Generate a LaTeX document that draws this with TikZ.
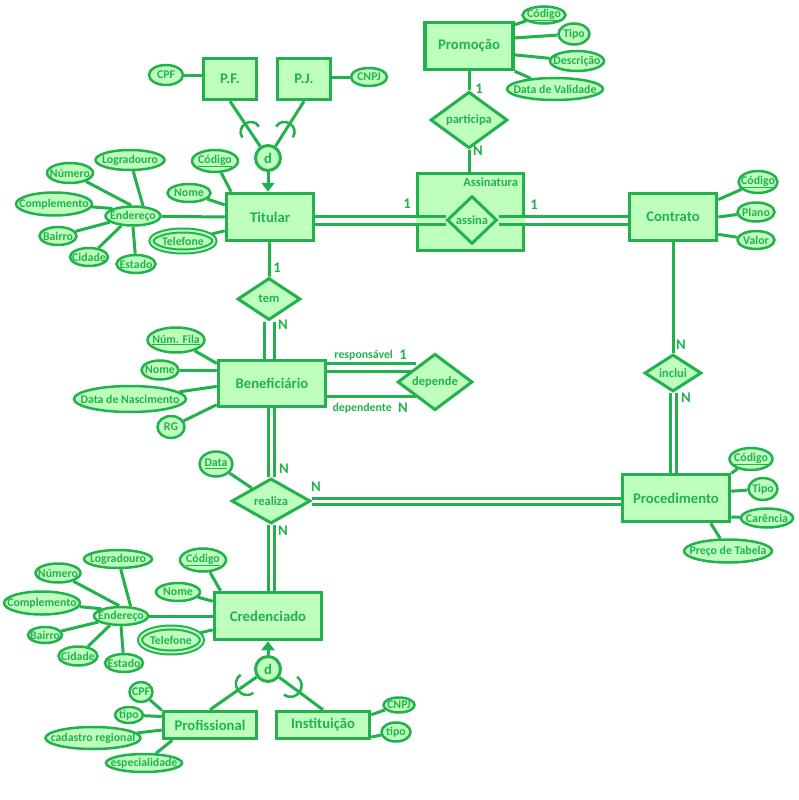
\documentclass[tikz,border=0pt]{standalone}
\usepackage{fontspec}
\setmainfont{Carlito}
\usetikzlibrary{positioning,shapes.geometric,arrows.meta}
\definecolor{ergreen}{RGB}{34,177,76}
\definecolor{erfill}{RGB}{190,255,190}
\pgfdeclarelayer{back}
\pgfsetlayers{back,main}
\tikzset{
  ent/.style 2 args={rectangle, draw=ergreen, fill=erfill, line width=3.5pt, minimum width=#1pt, minimum height=#2pt, inner sep=0pt, text=ergreen, font=\fontsize{14.7}{16}\selectfont\bfseries},
  attr/.style 2 args={ellipse, draw=ergreen, fill=erfill, line width=2.5pt, minimum width=#1pt, minimum height=#2pt, inner xsep=-12pt, inner ysep=-1pt, text=ergreen, font=\fontsize{11.8}{13}\selectfont\bfseries},
  multi/.style={line width=2pt, double=erfill, double distance=2pt},
  rel/.style 2 args={diamond, draw=ergreen, fill=erfill, line width=3pt, minimum width=#1pt, minimum height=#2pt, inner sep=0pt, text=ergreen, font=\fontsize{12.5}{14}\selectfont\bfseries},
  spec/.style={circle, draw=ergreen, fill=erfill, line width=3pt, minimum size=25pt, inner sep=0pt, text=ergreen, font=\fontsize{14.7}{16}\selectfont\bfseries},
  card/.style={inner sep=0pt, text=ergreen, font=\fontsize{14.7}{16}\selectfont\bfseries},
  role/.style={inner sep=0pt, text=ergreen, font=\fontsize{11.8}{13}\selectfont\bfseries},
  con/.style={draw=ergreen, line width=3pt},
  dbl/.style={con, double=white, double distance=#1},
  dbl/.default=5pt,
  isa/.style={-{Triangle[width=13pt,length=9pt]}}
}
\begin{document}
\begin{tikzpicture}[x=1pt, y=-1pt]
    \useasboundingbox (0,0) rectangle (799,800);

    \node[ent={53}{41}] (pf) at (230,79) {P.F.};
    \node[ent={53}{41}] (pj) at (304,79) {P.J.};
    \node[ent={87}{47}] (titular) at (270,217) {Titular};
    \node[ent={88}{47}] (promocao) at (469,46) {Promoção};
    \node[ent={87}{47}] (contrato) at (673,217) {Contrato};
    \node[ent={107}{46}] (benef) at (272,383.5) {Beneficiário};
    \node[ent={107}{47}] (credenciado) at (268,616) {Credenciado};
    \node[ent={107}{47}] (procedimento) at (676,498) {Procedimento};
    \node[ent={93}{27}] (profissional) at (210,725) {Profissional};
    \node[ent={93}{27}] (instituicao) at (323,725) {Instituição};

    \node[rel={77}{45}] (participa) at (469,120) {participa};
    \node[rel={50}{48}] (assina) at (472,220) {assina};
    \node[rel={63}{42}] (tem) at (269,299) {tem};
    \node[rel={75}{55}] (depende) at (435,382) {depende};
    \node[rel={79}{45}] (realiza) at (271,501) {realiza};
    \node[rel={57}{37}] (inclui) at (673,373) {inclui};

    \node[spec] (d1) at (268,158) {d};
    \node[spec] (d2) at (268,669) {d};

    \node[attr={34}{20}] (pfCPF) at (166,75) {CPF};
    \node[attr={36}{18}] (pjCNPJ) at (369,77) {CNPJ};

    \node[attr={46}{22}] (tCod) at (215,161) {\underline{Código}};
    \node[attr={43}{18}] (tNome) at (189,193) {Nome};
    \node[attr={55}{19}] (tEnd) at (133,216) {Endereço};
    \node[attr={63}{21}, multi] (tTel) at (183,241) {Telefone};
    \node[attr={69}{20}] (tLog) at (130,160) {Logradouro};
    \node[attr={46}{20}] (tNum) at (70,173) {Número};
    \node[attr={76}{23}] (tComp) at (54,204) {Complemento};
    \node[attr={37}{18}] (tBai) at (58,236) {Bairro};
    \node[attr={38}{18}] (tCid) at (89,257) {Cidade};
    \node[attr={39}{18}] (tEst) at (136,264) {Estado};

    \node[attr={43}{17}] (pCod) at (544,15) {\underline{Código}};
    \node[attr={31}{21}] (pTipo) at (574,34) {Tipo};
    \node[attr={54}{20}] (pDesc) at (577,61) {Descrição};
    \node[attr={96}{22}] (pVal) at (555,89) {Data de Validade};

    \node[attr={39}{22}] (cCod) at (758,182) {\underline{Código}};
    \node[attr={37}{19}] (cPlano) at (756,212) {Plano};
    \node[attr={37}{18}] (cValor) at (756,240) {Valor};

    \node[attr={57}{25}] (bFila) at (176,340) {\underline{Núm. Fila}};
    \node[attr={37}{19}] (bNome) at (160,370) {Nome};
    \node[attr={112}{26}] (bNasc) at (130,399) {Data de Nascimento};
    \node[attr={27}{22}] (bRG) at (171,427) {RG};

    \node[attr={33}{25}] (rData) at (216,464) {\underline{Data}};

    \node[attr={46}{23}] (kCod) at (203,560) {\underline{Código}};
    \node[attr={44}{18}] (kNome) at (178,592) {Nome};
    \node[attr={54}{18}] (kEnd) at (121,616) {Endereço};
    \node[attr={62}{25}, multi] (kTel) at (171,640) {Telefone};
    \node[attr={68}{18}] (kLog) at (118,559) {Logradouro};
    \node[attr={45}{19}] (kNum) at (58,573) {Número};
    \node[attr={76}{23}] (kComp) at (42,603) {Complemento};
    \node[attr={34}{16}] (kBai) at (45,635) {Bairro};
    \node[attr={39}{19}] (kCid) at (78,656) {Cidade};
    \node[attr={38}{18}] (kEst) at (124,663) {Estado};

    \node[attr={43}{22}] (xCod) at (751,459) {\underline{Código}};
    \node[attr={29}{22}] (xTipo) at (763,489) {Tipo};
    \node[attr={52}{19}] (xCar) at (767,518) {Carência};
    \node[attr={88}{23}] (xPreco) at (728,551) {Preço de Tabela};

    \node[attr={23}{20}] (fCPF) at (141,692) {CPF};
    \node[attr={28}{16}] (fTipo) at (129,715) {tipo};
    \node[attr={95}{22}] (fCad) at (93,738) {cadastro regional};
    \node[attr={76}{18}] (fEsp) at (144,763) {especialidade};

    \node[attr={31}{15}] (iCNPJ) at (399,705) {CNPJ};
    \node[attr={29}{19}] (iTipo) at (396,732) {tipo};

    \node[card] (cPromo) at (479,89) {1};
    \node[card] (cAssin) at (478,151) {N};
    \node[card] (cTitAss) at (407,204) {1};
    \node[card] (cConAss) at (534,205) {1};
    \node[card] (cTitTem) at (277,268) {1};
    \node[card] (cBenTem) at (283,325) {N};
    \node[card] (cBenRea) at (284,469) {N};
    \node[card] (cProRea) at (316,487) {N};
    \node[card] (cCreRea) at (283,531) {N};
    \node[card] (cConInc) at (681,345) {N};
    \node[card] (cProInc) at (686,398) {N};
    \node[card] (cResp) at (403,355) {1};
    \node[card] (cDep) at (403,408) {N};
    \node[role, left=6pt of cResp] (lResp) {responsável};
    \node[role, left=6pt of cDep] (lDep) {dependente};

    \begin{pgfonlayer}{back}
    \node[ent={106}{77}] (assinatura) at (470.5,212) {};
    \node[role, font=\fontsize{12.5}{14}\selectfont\bfseries, below left=6pt and 7pt of assinatura.north east] (lAssin) {Assinatura};

    \draw[con] (pfCPF) -- (pfCPF -| pf.west);
    \draw[con] (pjCNPJ) -- (pjCNPJ -| pj.east);
    \draw[con] (d1) -- (pf.south);
    \draw[con] (d1) -- (pj.south);
    \draw[con, isa] (d1) -- (d1 |- titular.north);
    \draw[con, line width=2.5pt] (242.4,137.6) .. controls (235.0,126.5) and (251.6,115.4) .. (259.0,126.5);
    \draw[con, line width=2.5pt] (276.0,126.7) .. controls (283.1,115.4) and (300.0,126.0) .. (292.9,137.3);

    \draw[con] (tCod) -- (titular.147);
    \draw[con] (tNome) -- (titular.165);
    \draw[con] (tEnd) -- (titular.west);
    \draw[con] (tTel) -- (titular.197);
    \draw[con] (tLog) -- (tEnd.45);
    \draw[con] (tNum) -- (tEnd.100);
    \draw[con] (tComp) -- (tEnd.160);
    \draw[con] (tBai) -- (tEnd.195);
    \draw[con] (tCid) -- (tEnd.220);
    \draw[con] (tEst) -- (tEnd.270);

    \draw[con] (pCod) -- (promocao.25);
    \draw[con] (pTipo) -- (promocao.10);
    \draw[con] (pDesc) -- (promocao.349);
    \draw[con] (pVal) -- (promocao.south east);

    \draw[con] (cCod) -- (contrato.21);
    \draw[con] (cPlano) -- (contrato.east);
    \draw[con] (cValor) -- (contrato.339);

    \draw[con] (bFila) -- (benef.160);
    \draw[con] (bNome) -- (benef.167);
    \draw[con] (bNasc) -- (benef.183);
    \draw[con] (bRG) -- (benef.201);

    \draw[con] (rData) -- (realiza);

    \draw[con] (kCod) -- (credenciado.152);
    \draw[con] (kNome) -- (credenciado.165);
    \draw[con] (kEnd) -- (credenciado.west);
    \draw[con] (kTel) -- (credenciado.194);
    \draw[con] (kLog) -- (kEnd.45);
    \draw[con] (kNum) -- (kEnd.100);
    \draw[con] (kComp) -- (kEnd.160);
    \draw[con] (kBai) -- (kEnd.195);
    \draw[con] (kCid) -- (kEnd.220);
    \draw[con] (kEst) -- (kEnd.270);

    \draw[con] (xCod) -- (procedimento.24);
    \draw[con] (xTipo) -- (procedimento.7);
    \draw[con] (xCar) -- (procedimento.341);
    \draw[con] (xPreco) -- (procedimento.324);

    \draw[con] (fCPF) -- (profissional.163);
    \draw[con] (fTipo) -- (profissional.170);
    \draw[con] (fCad) -- (profissional.186);
    \draw[con] (fEsp) -- (profissional.202);
    \draw[con] (iCNPJ) -- (instituicao.12);
    \draw[con] (iTipo) -- (instituicao.346);

    \draw[con, isa] (d2) -- (d2 |- credenciado.south);
    \draw[con] (d2) -- (profissional.north);
    \draw[con] (d2) -- (instituicao.north);
    \draw[con, line width=2.5pt] (240.7,674.8) .. controls (228.7,683.3) and (241.3,701.3) .. (253.3,692.8);
    \draw[con, line width=2.5pt] (297.1,676.9) .. controls (308.9,685.7) and (295.7,703.3) .. (283.9,694.5);

    \draw[con] (promocao) -- (participa);
    \draw[con] (participa) -- (participa |- assinatura.north);
    \draw[dbl] (titular.east |- assina) -- (assinatura.west |- assina);
    \draw[dbl, double=erfill] (assinatura.west |- assina) -- (assina);
    \draw[dbl, double=erfill] (assina) -- (assinatura.east |- assina);
    \draw[dbl] (assinatura.east |- assina) -- (contrato.west |- assina);
    \draw[con] (titular) -- (tem);
    \draw[dbl=7pt] (tem) -- (tem |- benef.north);
    \draw[dbl] (benef.east |- depende.north west) -- (depende.north west);
    \draw[con] (benef.east |- depende.south west) -- (depende.south west);
    \draw[dbl=3pt] (realiza |- benef.south) -- (realiza);
    \draw[dbl=3pt] (realiza) -- (realiza |- credenciado.north);
    \draw[dbl=3pt] (realiza) -- (realiza -| procedimento.west);
    \draw[con] (contrato) -- (inclui);
    \draw[dbl=3pt] (inclui) -- (inclui |- procedimento.north);
    \end{pgfonlayer}
\end{tikzpicture}
\end{document}
